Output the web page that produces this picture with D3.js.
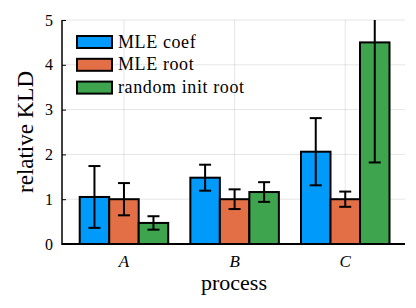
<!DOCTYPE html>
<html>
<head>
<meta charset="utf-8">
<script src="https://cdn.jsdelivr.net/npm/d3@7"></script>
<style>
  body { margin: 0; background: #fff; }
</style>
</head>
<body>
<div id="chart"></div>
<script>
// data
const processes = ["A", "B", "C"];
const series = ["MLE coef", "MLE root", "random init root"];
const colors = ["#009AFA", "#E26F46", "#3EA44E"];
const mleCoef = [1.05, 1.48, 2.06];
const mleRoot = [1.0, 1.0, 1.0];
const randomRoot = [0.47, 1.16, 4.5];
const mleCoefErr = [0.69, 0.29, 0.75];
const mleRootErr = [0.36, 0.22, 0.17];
const randomRootErr = [0.15, 0.22, 2.68];
const yTicks = [0, 1, 2, 3, 4, 5];

const values = [mleCoef, mleRoot, randomRoot];
const errs = [mleCoefErr, mleRootErr, randomRootErr];

const width = 416, height = 308;
const pleft = 62, pright = 405, ptop = 20, pbottom = 244;
const serif = "'Liberation Serif', 'DejaVu Serif', serif";

let svg = d3.select("#chart").append("svg")
    .attr("width", width).attr("height", height)
    .attr("font-family", serif);

let x = d3.scaleLinear().domain([0.44, 3.54]).range([pleft, pright]);
let y = d3.scaleLinear().domain([0, 5]).range([pbottom, ptop]);
let groupw = 0.8;
let barw = groupw / series.length;

svg.append("defs").append("clipPath").attr("id", "plotclip")
    .append("rect").attr("x", pleft).attr("y", ptop)
    .attr("width", pright - pleft).attr("height", pbottom - ptop);

// grid
let grid = svg.append("g").style("stroke", "#000").style("stroke-opacity", 0.1).style("stroke-width", 1);
yTicks.forEach(function(t){
    grid.append("line").attr("x1", pleft).attr("x2", pright).attr("y1", y(t)).attr("y2", y(t));
})
processes.forEach(function(p, i){
    grid.append("line").attr("x1", x(i + 1)).attr("x2", x(i + 1)).attr("y1", ptop).attr("y2", pbottom);
})

// bars
let plot = svg.append("g").attr("clip-path", "url(#plotclip)");
series.forEach(function(s, si){
    processes.forEach(function(p, pi){
        let x0 = x(pi + 1 - groupw / 2 + si * barw);
        let x1 = x(pi + 1 - groupw / 2 + (si + 1) * barw);
        plot.append("rect")
            .attr("x", x0).attr("y", y(values[si][pi]))
            .attr("width", x1 - x0).attr("height", y(0) - y(values[si][pi]))
            .style("fill", colors[si])
            .style("stroke", "#000")
            .style("stroke-width", 2);
    })
})

// error bars
series.forEach(function(s, si){
    processes.forEach(function(p, pi){
        let cx = x(pi + 1 - groupw / 2 + (si + 0.5) * barw);
        let lo = values[si][pi] - errs[si][pi];
        let hi = values[si][pi] + errs[si][pi];
        let g = plot.append("g").style("stroke", "#000").style("stroke-width", 2);
        g.append("line").attr("x1", cx).attr("x2", cx).attr("y1", y(lo)).attr("y2", y(hi));
        [lo, hi].forEach(function(v){
            g.append("line").attr("x1", cx - 6).attr("x2", cx + 6).attr("y1", y(v)).attr("y2", y(v));
        })
    })
})

// axes
let yaxis = d3.axisLeft(y).tickValues(yTicks).tickSize(-4).tickPadding(8).tickFormat(d3.format("d"));
let ya = svg.append("g").attr("transform", "translate(" + pleft + ",0)").call(yaxis);
ya.attr("font-family", null);
ya.select(".domain").remove();
ya.selectAll(".tick line").style("stroke", "#000").style("stroke-width", 1);
ya.selectAll("text").style("font-family", serif).style("font-size", "16px").attr("x", -9);

svg.append("line").attr("x1", pleft).attr("x2", pleft).attr("y1", ptop).attr("y2", pbottom + 1)
    .style("stroke", "#000").style("stroke-width", 1.5);
svg.append("line").attr("x1", pleft).attr("x2", pright).attr("y1", pbottom).attr("y2", pbottom)
    .style("stroke", "#000").style("stroke-width", 2);

processes.forEach(function(p, i){
    svg.append("text").text(p)
        .attr("x", x(i + 1)).attr("y", pbottom + 23)
        .style("text-anchor", "middle")
        .style("font-family", serif)
        .style("font-style", "italic")
        .style("font-size", "17px");
})

svg.append("text").text("process")
    .attr("x", (pleft + pright) / 2 + 0.5).attr("y", 290)
    .style("font-family", serif)
    .style("text-anchor", "middle").style("font-size", "22px");

svg.append("text").text("relative KLD")
    .attr("transform", "translate(33," + (ptop + pbottom) / 2 + ") rotate(-90)")
    .style("font-family", serif)
    .style("text-anchor", "middle").style("font-size", "23px");

// legend
let leg = svg.append("g").attr("transform", "translate(77,36)");
series.forEach(function(s, i){
    let row = leg.append("g").attr("transform", "translate(0," + (i * 22.8) + ")");
    row.append("rect").attr("width", 35).attr("height", 12)
        .style("fill", colors[i]).style("stroke", "#000").style("stroke-width", 2);
    row.append("text").text(s).attr("x", 41).attr("y", 11.5)
        .style("font-family", serif).style("font-size", "18px")
        .style("letter-spacing", "0.6px");
})
</script>
</body>
</html>
